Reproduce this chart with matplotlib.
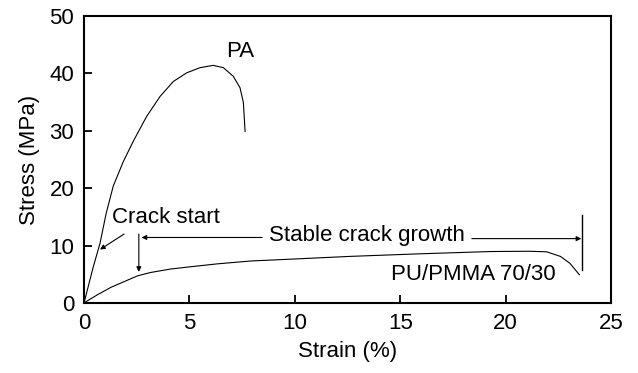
import matplotlib.pyplot as plt

plt.rcParams['font.family'] = ['Liberation Sans', 'DejaVu Sans']

# PA stress-strain curve
pa_strain = [0, 0.44, 0.76, 1.05, 1.39, 1.86, 2.34, 2.97, 3.61, 4.24, 4.87,
             5.50, 6.13, 6.61, 7.08, 7.40, 7.56, 7.64]
pa_stress = [0, 6.3, 10.4, 15.6, 20.4, 24.6, 28.2, 32.5, 36.0, 38.6, 40.1,
             41.0, 41.4, 41.0, 39.5, 37.5, 34.9, 29.9]

# PU/PMMA 70/30 stress-strain curve
pu_strain = [0, 0.63, 1.27, 1.90, 2.53, 3.16, 4.11, 5.06, 6.32, 7.91, 9.4,
             12.6, 15.9, 19.3, 21.1, 21.95, 22.6, 23.05, 23.5]
pu_stress = [0, 1.4, 2.7, 3.7, 4.7, 5.3, 5.9, 6.3, 6.8, 7.3, 7.55,
             8.1, 8.55, 8.95, 9.0, 8.9, 8.1, 6.9, 4.9]

# failure marker and crack annotations
fail_strain = 23.64
fail_stress = [5.8, 15.4]
crack_start_strain = 2.6
growth_level = 11.4

fs = 16

fig = plt.figure(figsize=(6.38, 3.73), dpi=100)
ax = fig.add_axes([0.1317, 0.188, 0.826, 0.769])

ax.plot(pa_strain, pa_stress, color='black', lw=0.8)
ax.plot(pu_strain, pu_stress, color='black', lw=0.8)
ax.plot([fail_strain, fail_strain], fail_stress, color='black', lw=1.0)

ax.set_xlim(0, 25)
ax.set_ylim(0, 50)
ax.set_xticks([0, 5, 10, 15, 20, 25])
ax.set_yticks([0, 10, 20, 30, 40, 50])
ax.tick_params(direction='in', length=6, width=1.3, labelsize=fs, pad=7)
for s in ax.spines.values():
    s.set_linewidth(1.5)

ax.set_xlabel('Strain (%)', fontsize=fs, labelpad=5)
ax.set_ylabel('Stress (MPa)', fontsize=fs, labelpad=7)

arrow = dict(arrowstyle='-|>', color='black', lw=0.8, mutation_scale=7, shrinkA=0, shrinkB=0)

ax.text(7.4, 43.8, 'PA', fontsize=fs, ha='center', va='center')
ax.text(18.45, 5.0, 'PU/PMMA 70/30', fontsize=fs, ha='center', va='center')
ax.text(3.9, 14.8, 'Crack start', fontsize=fs, ha='center', va='center')
ax.annotate('', xy=(0.76, 9.3), xytext=(1.9, 12.0), arrowprops=arrow)
ax.annotate('', xy=(crack_start_strain, 5.4), xytext=(crack_start_strain, 12.0), arrowprops=arrow)
ax.text(13.4, growth_level + 0.3, 'Stable crack growth', fontsize=fs, ha='center', va='center')
ax.annotate('', xy=(2.73, growth_level), xytext=(8.45, growth_level), arrowprops=arrow)
ax.annotate('', xy=(fail_strain - 0.05, growth_level - 0.2), xytext=(18.4, growth_level - 0.2),
            arrowprops=arrow)

fig.savefig('out.png', dpi=100)
